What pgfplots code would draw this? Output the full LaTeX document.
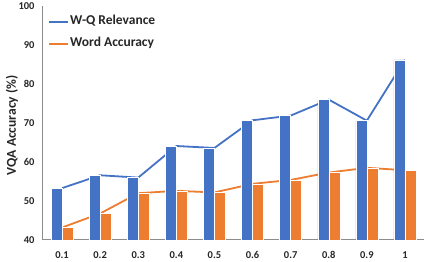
\documentclass[border=0pt]{standalone}
\usepackage{fontspec}
\setmainfont{Carlito}
\usepackage{pgfplots}
\pgfplotsset{compat=1.18}
\definecolor{wqblue}{HTML}{4472C4}
\definecolor{waorange}{HTML}{ED7D31}
\definecolor{axgray}{HTML}{8C8C8C}
\begin{document}
\begin{tikzpicture}
\begin{axis}[
  name=a, at={(0,0)}, anchor=south west,
  scale only axis, width=381pt, height=234pt,
  xmin=-0.5, xmax=9.5, ymin=40, ymax=100,
  xtick={0,...,9},
  xticklabels={0.1,0.2,0.3,0.4,0.5,0.6,0.7,0.8,0.9,1},
  ytick={40,50,...,100},
  axis x line*=bottom, axis y line*=left,
  axis line style={axgray, line width=1pt, -},
  major tick length=0pt,
  tick label style={font=\fontsize{10.5}{12}\selectfont\bfseries, text=black!85},
  /pgf/number format/assume math mode=true,
  xticklabel style={yshift=-8pt},
  yticklabel style={xshift=-5pt},
  ylabel={VQA Accuracy (\%)},
  every axis y label/.style={at={(axis description cs:-0.0814,0.49)}, rotate=90, anchor=center, font=\fontsize{13.5}{16}\selectfont\bfseries, text=black!85},
  legend style={at={(0,1)}, anchor=north west, xshift=5pt, yshift=-9.5pt, draw=none, fill=none, inner sep=0pt, row sep=10pt, column sep=1pt, font=\fontsize{13.5}{16}\selectfont\bfseries, text=black!85, nodes={inner sep=0pt, text height=9pt, text depth=3pt}},
  legend cell align=left,
  legend image code/.code={\draw[#1, line width=2pt] (0pt,0pt) -- (19pt,0pt);},
]
\addplot[wqblue, line width=1.8pt, mark=none] coordinates {
(0,53.3) (1,56.6) (2,56.0) (3,64.1) (4,63.6) (5,70.7) (6,71.9) (7,76.0) (8,70.6) (9,86.2)};
\addlegendentry{W-Q Relevance}
\addplot[waorange, line width=1.8pt, mark=none] coordinates {
(0,43.2) (1,46.8) (2,52.0) (3,52.6) (4,52.2) (5,54.4) (6,55.4) (7,57.3) (8,58.5) (9,57.9)};
\addlegendentry{Word Accuracy}
\addplot[ybar, bar width=11pt, bar shift=-5.5pt, fill=wqblue, draw=white, line width=0.4pt, forget plot] coordinates {
(0,53.3) (1,56.5) (2,56.0) (3,64.1) (4,63.6) (5,70.7) (6,71.9) (7,76.0) (8,70.6) (9,86.2)};
\addplot[ybar, bar width=11pt, bar shift=5.5pt, fill=waorange, draw=white, line width=0.4pt, forget plot] coordinates {
(0,43.2) (1,46.8) (2,52.0) (3,52.6) (4,52.2) (5,54.4) (6,55.4) (7,57.3) (8,58.5) (9,57.9)};
\end{axis}
\pgfresetboundingbox
\path[use as bounding box] ([xshift=-43pt,yshift=-21.7pt]a.south west) rectangle ([xshift=4pt,yshift=6pt]a.north east);
\end{tikzpicture}
\end{document}
